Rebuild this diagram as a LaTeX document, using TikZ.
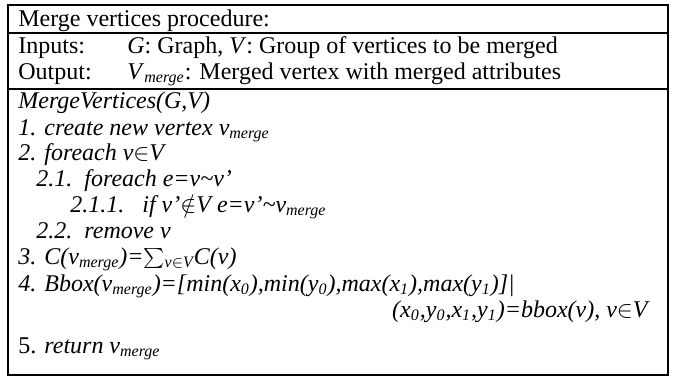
\documentclass[tikz,border=0pt]{standalone}
\usepackage{fontspec}
\setmainfont{Liberation Serif}
\newcommand{\vm}{\textit{v}\textsubscript{\textit{merge}}}
\begin{document}
\begin{tikzpicture}[x=0.5pt,y=-0.5pt,
  txt/.style={anchor=base west, inner sep=0pt, font=\fontsize{12}{14}\selectfont},
  itx/.style={txt, font=\fontsize{12}{14}\selectfont\itshape},
  frame/.style={line width=1pt},
  sep/.style={line width=0.9pt}]
\useasboundingbox (0,0) rectangle (678,377);
\draw[frame] (8,5) rectangle (668,375);
\draw[sep] (8,33) -- (668,33);
\draw[sep] (8,89) -- (668,89);
\node[txt] (title) at (18,26) {Merge vertices procedure:};
\node[txt] (inl) at (18,53) {Inputs:};
\node[txt] (inv) at (127,53) {\textit{G}: Graph, \textit{V}: Group of vertices to be merged};
\node[txt] (outl) at (18,79) {Output:};
\node[txt] (outv) at (127,79) {\textit{V}\textsubscript{\textit{merge}}: Merged vertex with merged attributes};
\node[itx] (mv) at (18,108) {MergeVertices(G,V)};
\node[itx] (s1) at (18,135) {1. create new vertex \vm};
\node[itx] (s2) at (18,160) {2. foreach v$\in$V};
\node[itx] (s21) at (36,186) {2.1.\ \ foreach e=v\textasciitilde v'};
\node[itx] (s211) at (70,212) {2.1.1.\ \ \ if v'$\notin$V e=v'\textasciitilde\vm};
\node[itx] (s22) at (36,238) {2.2.\ \ remove v};
\node[itx] (s3) at (18,264) {3. C(\vm)=$\sum$\textsubscript{v$\in$V}C(v)};
\node[itx] (s4) at (18,291) {4. Bbox(\vm)=[min(x\textsubscript{0}),min(y\textsubscript{0}),max(x\textsubscript{1}),max(y\textsubscript{1})]|};
\node[itx, anchor=base east] (s4b) at (648,317) {(x\textsubscript{0},y\textsubscript{0},x\textsubscript{1},y\textsubscript{1})=bbox(v), v$\in$V};
\node[txt] (s5) at (18,353) {5. \textit{return} \vm};
\end{tikzpicture}
\end{document}
